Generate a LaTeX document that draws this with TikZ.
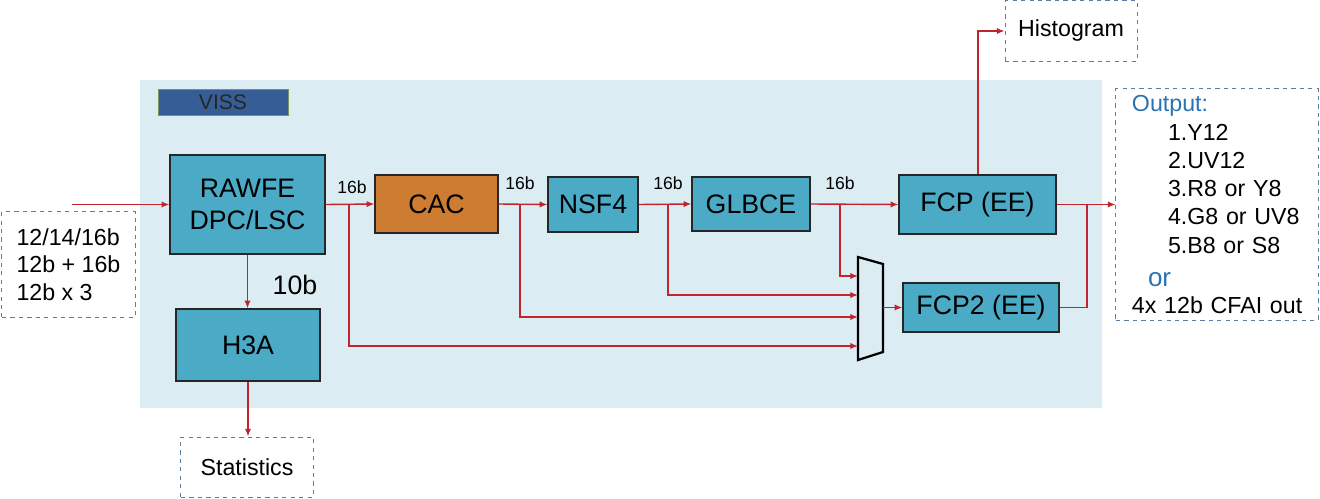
\documentclass[tikz,border=0pt]{standalone}
\usepackage{fontspec}
\setmainfont{Liberation Sans}
\usepackage{xcolor}
\usepackage{tikz}
\usetikzlibrary{calc, arrows.meta, positioning}

\definecolor{vissbg}{RGB}{219,236,243}
\definecolor{blockfill}{RGB}{75,170,198}
\definecolor{cacfill}{RGB}{206,124,50}
\definecolor{vissfill}{RGB}{55,94,148}
\definecolor{vissedge}{RGB}{120,150,90}
\definecolor{linkred}{RGB}{192,36,44}
\definecolor{dashedge}{RGB}{90,125,160}
\definecolor{outblue}{RGB}{40,115,180}

\begin{document}
\begin{tikzpicture}[x=0.025cm, y=-0.025cm, >={Latex[length=5.5pt,width=4.5pt]},
    block/.style={draw=black!85, line width=0.9pt, fill=blockfill, font=\fontsize{19}{23}\selectfont, align=center},
    dashbox/.style={draw=dashedge, dashed, line width=0.7pt, font=\fontsize{16.5}{19.6}\selectfont},
    link/.style={draw=linkred, line width=1pt},
    bits/.style={font=\fontsize{12.5}{14}\selectfont}]
    \useasboundingbox (0,0) rectangle (1320,499);

    % Vùng VISS
    \fill[vissbg] (140,80) rectangle (1102,408);
    \node[draw=vissedge, line width=0.6pt, fill=vissfill, minimum width=3.25cm, minimum height=0.65cm,
        font=\fontsize{15}{18}\selectfont, text=black!85] (viss) at (223,102) {VISS};

    % Các khối xử lý
    \node[block, minimum width=3.875cm, minimum height=2.475cm] (rawfe) at (247.5,204.5) {RAWFE\\DPC/LSC};
    \node[block, fill=cacfill, minimum width=3.075cm, minimum height=1.45cm] (cac) at (436.5,204) {CAC};
    \node[block, minimum width=2.25cm, minimum height=1.375cm] (nsf4) at (593,204.5) {NSF4};
    \node[block, minimum width=2.95cm, minimum height=1.35cm] (glbce) at (751,204) {GLBCE};
    \node[block, minimum width=3.925cm, minimum height=1.475cm] (fcp) at (977.5,204.5) {FCP (EE)};
    \node[block, minimum width=3.9cm, minimum height=1.225cm] (fcp2) at (981,307.5) {FCP2 (EE)};
    \node[block, minimum width=3.6cm, minimum height=1.8cm] (h3a) at (248,345) {H3A};

    % Khung nét đứt
    \node[dashbox, minimum width=3.325cm, minimum height=2.625cm, align=left] (input) at (68.5,264.5)
        {12/14/16b\\12b + 16b\\12b x 3};
    \node[dashbox, minimum width=3.3cm, minimum height=1.5cm] (stats) at (247,467) {Statistics};
    \node[dashbox, minimum width=3.3cm, minimum height=1.5cm] (histo) at (1071,31) {Histogram};
    \node[dashbox, minimum width=5.05cm, minimum height=5.775cm, text width=4.4cm, inner xsep=0.325cm,
        align=left, font=\fontsize{16.5}{20.1}\selectfont] (outbox) at (1217,204.5)
        {\hspace*{0.075cm}\textcolor{outblue}{Output:}\\
         \hspace*{0.975cm}1.Y12\\
         \hspace*{0.975cm}2.UV12\\
         \hspace*{0.975cm}3.R8 or Y8\\
         \hspace*{0.975cm}4.G8 or UV8\\
         \hspace*{0.975cm}5.B8 or S8\\[3.4pt]
         \hspace*{0.475cm}{\fontsize{18.5}{20.1}\selectfont\textcolor{outblue}{or}}\\[-0.9pt]
         \hspace*{0.075cm}4x 12b CFAI out};

    % Bộ chọn (mux)
    \draw[line width=1.6pt, fill=vissbg, line join=miter] (858,257) -- (883,264) -- (883,352) -- (858,360) -- cycle;
    \coordinate (mux1) at (858,276);
    \coordinate (mux2) at (858,295);
    \coordinate (mux3) at (858,317);
    \coordinate (mux4) at (858,346);
    \coordinate (muxout) at (883,307.5);

    % Nhãn số bit
    \node[bits] (b1) at (352,187) {16b};
    \node[bits] (b2) at (520,183) {16b};
    \node[bits] (b3) at (668,183) {16b};
    \node[bits] (b4) at (840,183) {16b};
    \node[font=\fontsize{19}{23}\selectfont] (b10) at (295,285) {10b};

    % Điểm rẽ nhánh
    \coordinate (in0) at (72,204.5);
    \coordinate (br1) at (349,204.5);
    \coordinate (br2) at (520,204);
    \coordinate (br3) at (668,204);
    \coordinate (br4) at (840,204);
    \coordinate (brout) at (1087,204.5);
    \coordinate (histup) at (978,32);

    % Đường nối
    \draw[link, ->] (in0) -- (rawfe.west);
    \draw[link, ->] (rawfe.east) -- (cac.west);
    \draw[link, ->] (cac.east) -- (nsf4.west);
    \draw[link, ->] (nsf4.east) -- (glbce.west);
    \draw[link, ->] (glbce.east) -- (fcp.west);
    \draw[link, ->] (fcp.east) -- (outbox.west |- fcp.east);
    \draw[link, ->] (br1) |- (mux4);
    \draw[link, ->] (br2) |- (mux3);
    \draw[link, ->] (br3) |- (mux2);
    \draw[link, ->] (br4) |- (mux1);
    \draw[link, ->] (muxout) -- (fcp2.west);
    \draw[link] (fcp2.east) -| (brout);
    \draw[link, ->] (fcp.north -| histup) |- (histo.west);
    \draw[link, ->] (rawfe.south) -- (h3a.north -| rawfe.south);
    \draw[link, ->] (h3a.south) -- (stats.north -| h3a.south);
\end{tikzpicture}
\end{document}
